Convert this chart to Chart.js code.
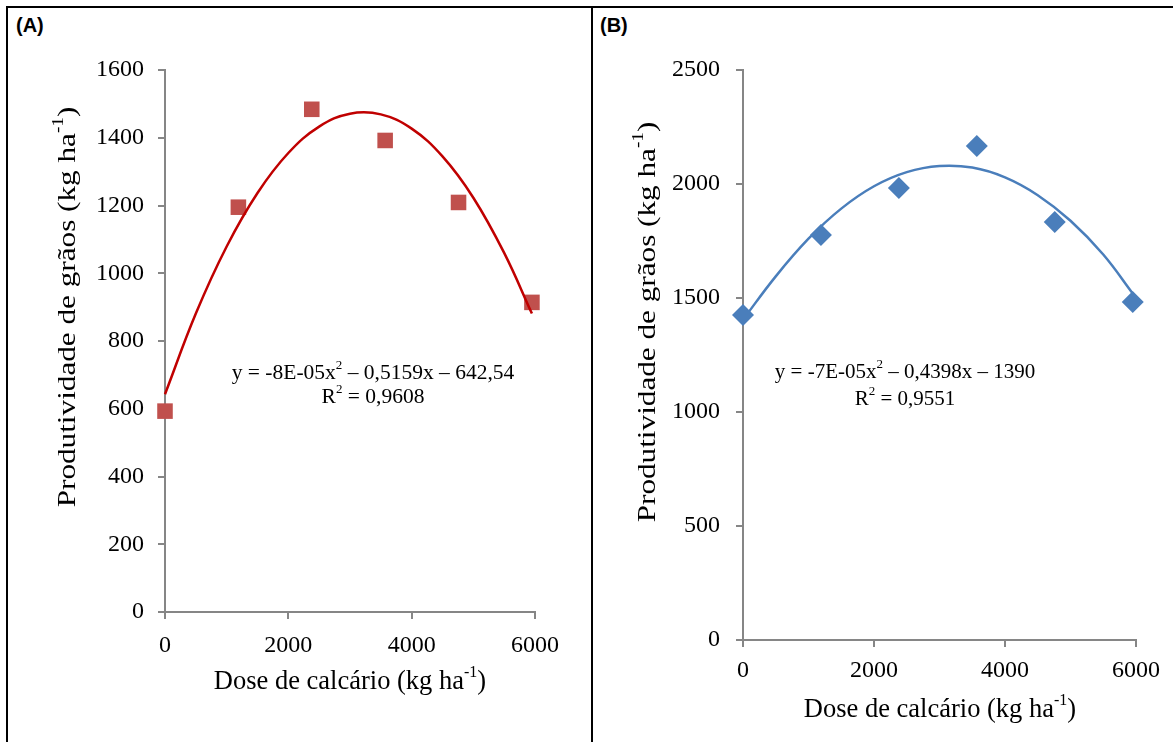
<!DOCTYPE html>
<html>
<head>
<meta charset="utf-8">
<script src="https://cdn.jsdelivr.net/npm/chart.js@4.4.1/dist/chart.umd.min.js"></script>
<style>
	body { margin: 0; background: #fff; width: 1173px; height: 742px; overflow: hidden; position: relative; }
	.line { position: absolute; background: #000; }
	.tag { position: absolute; font: bold 20px "Liberation Sans", Arial, sans-serif; color: #000; }
	canvas { position: absolute; top: 0; }
</style>
</head>
<body>
<div class="line" style="left:6px; top:6px; width:1167px; height:2px;"></div>
<div class="line" style="left:6px; top:6px; width:2px; height:736px;"></div>
<div class="line" style="left:591px; top:6px; width:2px; height:736px;"></div>
<div class="tag" style="left:16px; top:14px;">(A)</div>
<div class="tag" style="left:600px; top:14px;">(B)</div>
<div style="position:absolute; left:0; top:0; width:591px; height:742px;"><canvas id="chartA"></canvas></div>
<div style="position:absolute; left:593px; top:0; width:580px; height:742px;"><canvas id="chartB"></canvas></div>
<script>

// Dose de calcario (kg/ha)
var doses = [0, 1190, 2380, 3570, 4760, 5950];

// (A) observed yield
var yieldA = [593, 1195, 1484, 1392, 1209, 914];
// (B) observed yield
var yieldB = [1425, 1776, 1982, 2167, 1833, 1482];

// trend lines
var trendDoses = [0, 500, 1000, 1500, 2000, 2500, 3000, 3500, 4000, 4500, 5000, 5500, 5950];
var trendA = [643, 881, 1079, 1237, 1355, 1433, 1471, 1469, 1427, 1345, 1223, 1060, 881];
var trendB = [1405, 1595, 1760, 1892, 1990, 2052, 2079, 2072, 2029, 1951, 1839, 1691, 1520];

var xTicks = [0, 2000, 4000, 6000];
var yTicksA = [0, 200, 400, 600, 800, 1000, 1200, 1400, 1600];
var yTicksB = [0, 500, 1000, 1500, 2000, 2500];

var eqA = ["y = -8E-05x", "2", " \u2013 0,5159x \u2013 642,54"];
var r2A = ["R", "2", " = 0,9608"];
var eqB = ["y = -7E-05x", "2", " \u2013 0,4398x \u2013 1390"];
var r2B = ["R", "2", " = 0,9551"];

var xTitle = ["Dose de calc\u00e1rio (kg ha", "-1", ")"];
var yTitle = ["Produtividade de gr\u00e3os (kg ha", "-1", ")"];

var serif = '"Liberation Serif", "Times New Roman", serif';
var axisGray = '#868686';

// draw text pieces, every odd piece is a superscript
function drawRich(ctx, parts, x, y, size, rotate, stretch){
	ctx.save();
	ctx.translate(x, y);
	if (rotate) ctx.rotate(-Math.PI / 2);
	if (stretch) ctx.scale(stretch, 1);
	var supSize = Math.round(size * 0.62);
	var total = 0;
	for (var i = 0; i < parts.length; i++) {
		ctx.font = (i % 2 ? supSize : size) + 'px ' + serif;
		total += ctx.measureText(parts[i]).width;
	}
	var cx = -total / 2;
	ctx.fillStyle = '#000';
	ctx.textBaseline = 'middle';
	ctx.textAlign = 'left';
	for (var i = 0; i < parts.length; i++) {
		ctx.font = (i % 2 ? supSize : size) + 'px ' + serif;
		ctx.fillText(parts[i], cx, i % 2 ? -size * 0.35 : 0);
		cx += ctx.measureText(parts[i]).width;
	}
	ctx.restore();
}

function textPlugin(texts){
	return {
		id: 'richText',
		afterDraw: function(chart){
			var ctx = chart.ctx;
			for (var i in texts) {
				var t = texts[i];
				drawRich(ctx, t.parts, t.x, t.y, t.size, t.rotate, t.stretch);
			}
		}
	};
}

function makeChart(canvasId, width, area, yMax, yTicks, yieldData, trendData, markerColor, lineColor, marker, texts){
	var canvas = document.getElementById(canvasId);
	canvas.width = width;
	canvas.height = 742;
	canvas.style.width = width + 'px';
	canvas.style.height = '742px';
	return new Chart(canvas, {
		type: 'scatter',
		data: {
			datasets: [
				{
					label: 'trend',
					data: trendDoses.map(function(d, i){ return {x: d, y: trendData[i]}; }),
					showLine: true,
					tension: 0.4,
					borderColor: lineColor,
					borderWidth: 2.5,
					pointRadius: 0,
					clip: false
				},
				{
					label: 'obs',
					data: doses.map(function(d, i){ return {x: d, y: yieldData[i]}; }),
					pointStyle: marker,
					pointRadius: 11,
					backgroundColor: markerColor,
					borderColor: markerColor,
					borderWidth: 0,
					clip: false
				}
			]
		},
		options: {
			responsive: false,
			animation: false,
			layout: { padding: { left: 0, top: area.top, right: width - area.right, bottom: 0 } },
			plugins: { legend: { display: false }, tooltip: { enabled: false } },
			scales: {
				x: {
					type: 'linear',
					min: 0, max: 6000,
					afterBuildTicks: function(s){ s.ticks = xTicks.map(function(v){ return {value: v}; }); },
					afterFit: function(s){ s.height = 742 - area.bottom; },
					ticks: { color: '#000', font: { family: serif, size: 24 }, padding: area.xPad, maxRotation: 0,
						callback: function(v){ return String(v); } },
					grid: { drawOnChartArea: false, drawTicks: true, tickLength: 7, color: axisGray, lineWidth: 2 },
					border: { display: true, color: axisGray, width: 2 }
				},
				y: {
					type: 'linear',
					min: 0, max: yMax,
					afterBuildTicks: function(s){ s.ticks = yTicks.map(function(v){ return {value: v}; }); },
					afterFit: function(s){ s.width = area.left; },
					ticks: { color: '#000', font: { family: serif, size: 24 }, padding: area.yPad,
						callback: function(v){ return String(v); } },
					grid: { drawOnChartArea: false, drawTicks: true, tickLength: 7, color: axisGray, lineWidth: 2 },
					border: { display: true, color: axisGray, width: 2 }
				}
			}
		},
		plugins: [textPlugin(texts)]
	});
}

var chartA = makeChart('chartA', 591, {left: 165, right: 535, top: 70, bottom: 612, xPad: 12, yPad: 14}, 1600, yTicksA,
	yieldA, trendA, '#C0504D', '#C00000', 'rect', [
		{parts: eqA, x: 373, y: 373, size: 21.5},
		{parts: r2A, x: 373, y: 397, size: 21.5},
		{parts: xTitle, x: 350, y: 682, size: 26.5},
		{parts: yTitle, x: 68, y: 307, size: 26, rotate: true, stretch: 1.2}
	]);

var chartB = makeChart('chartB', 580, {left: 150, right: 543, top: 70, bottom: 640, xPad: 9, yPad: 16}, 2500, yTicksB,
	yieldB, trendB, '#4A7EBB', '#4A7EBB', 'rectRot', [
		{parts: eqB, x: 312, y: 372, size: 21},
		{parts: r2B, x: 312, y: 399, size: 21},
		{parts: xTitle, x: 347, y: 710, size: 26.5},
		{parts: yTitle, x: 55, y: 322, size: 26, rotate: true, stretch: 1.2}
	]);

</script>
</body>
</html>
